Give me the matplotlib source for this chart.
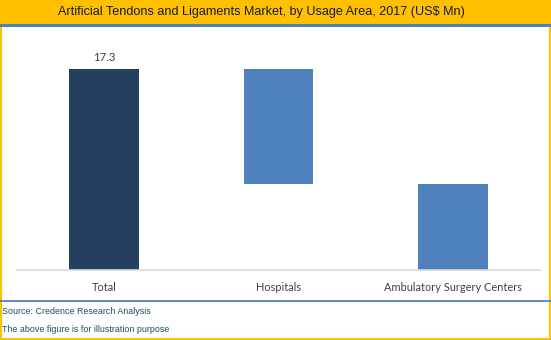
import matplotlib
matplotlib.use("Agg")
import matplotlib.pyplot as plt
from matplotlib.patches import Rectangle
from matplotlib.lines import Line2D

categories = ["Total", "Hospitals", "Ambulatory Surgery Centers"]
values = [17.3, 9.9, 7.4]
label_total = "17.3"

W, H = 551, 340
fig = plt.figure(figsize=(W/100, H/100), dpi=100)
fig.patch.set_facecolor("white")

def fx(x): return x / W
def fy(y): return 1 - y / H

orange = "#FFC000"
blue_line = "#4F81BD"

# title band
fig.patches.append(Rectangle((0, fy(24)), 1, 24/H, transform=fig.transFigure,
                             facecolor=orange, edgecolor="none", zorder=0))
fig.lines.append(Line2D([0, 1], [fy(25), fy(25)], transform=fig.transFigure,
                        color=blue_line, lw=2.2))
fig.lines.append(Line2D([0, 1], [fy(301), fy(301)], transform=fig.transFigure,
                        color=blue_line, lw=1.3))
# orange borders
fig.patches.append(Rectangle((0, 0), fx(1.5), 1, transform=fig.transFigure,
                             facecolor=orange, edgecolor="none"))
fig.patches.append(Rectangle((fx(549), 0), fx(2), 1, transform=fig.transFigure,
                             facecolor=orange, edgecolor="none"))
fig.patches.append(Rectangle((0, 0), 1, 2/H, transform=fig.transFigure,
                             facecolor=orange, edgecolor="none"))

fig.text(fx(261), fy(12), "Artificial Tendons and Ligaments Market, by Usage Area, 2017 (US$ Mn)",
         ha="center", va="center", fontsize=9.1, family="Liberation Sans", color="#1a1a1a")
fig.text(fx(2.5), fy(312), "Source: Credence Research Analysis", ha="left", va="center",
         fontsize=6.4, family="Liberation Sans", color="#1F4E5F")
fig.text(fx(2.5), fy(330), "The above figure is for illustration purpose", ha="left", va="center",
         fontsize=6.4, family="Liberation Sans", color="#1F4E5F")

# axes
ax_left, ax_right = 16.75, 540.25
ax_top, ax_bot = 40, 270
ax = fig.add_axes([fx(ax_left), fy(ax_bot), (ax_right-ax_left)/W, (ax_bot-ax_top)/H])
total = values[0]
ymax = total * (ax_bot - ax_top) / (ax_bot - 69)
ax.set_xlim(-0.5, 2.5)
ax.set_ylim(0, ymax)

bottoms = [0, total - values[1], total - values[1] - values[2]]
colors = ["#243F60", "#4F81BD", "#4F81BD"]
ax.bar(range(3), values, bottom=bottoms, width=0.4, color=colors, zorder=2)
ax.text(0, total + ymax*0.025, label_total, ha="center", va="bottom", fontsize=8.2,
        family="Lato", color="#404040")

for s in ["top", "left", "right"]:
    ax.spines[s].set_visible(False)
ax.spines["bottom"].set_color("#D9D9D9")
ax.spines["bottom"].set_linewidth(1.2)
ax.set_yticks([])
ax.set_xticks(range(3))
ax.set_xticklabels(categories, fontsize=7.9, color="#404040", family="Lato")
ax.tick_params(axis="x", length=0, pad=8.5)

fig.savefig("out.png", dpi=100)
